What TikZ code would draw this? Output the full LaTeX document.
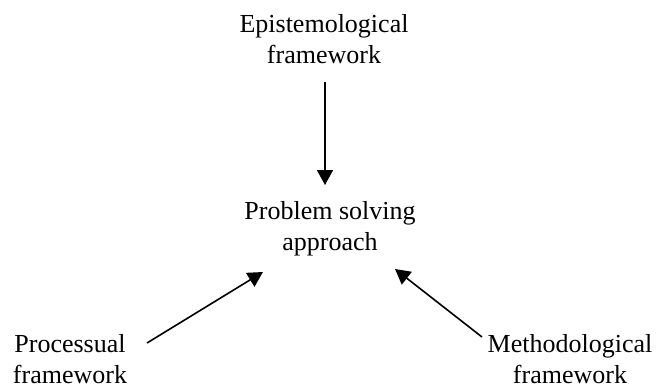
\documentclass[tikz,border=0pt]{standalone}
\usepackage{fontspec}
\setmainfont{Liberation Serif}
\usetikzlibrary{arrows.meta}
\begin{document}
\begin{tikzpicture}[x=1pt,y=1pt,
  lbl/.style={align=center,inner sep=0pt,anchor=base,font=\fontsize{26}{30.5}\selectfont},
  arr/.style={line width=1.6pt,-{Triangle[length=15pt,width=16pt]}}]
\useasboundingbox (0,0) rectangle (663,-389);
\node[lbl] (epi) at (324,-63) {Epistemological\\framework};
\node[lbl] (psa) at (330,-250) {Problem solving\\approach};
\node[lbl] (pro) at (70,-383) {Processual\\framework};
\node[lbl] (met) at (570,-383) {Methodological\\framework};
\coordinate (e1) at (325,-82);
\coordinate (e2) at (325,-185);
\coordinate (p1) at (147,-343);
\coordinate (p2) at (263,-272);
\coordinate (m1) at (482,-337);
\coordinate (m2) at (395,-269);
\draw[arr] (e1) -- (e2);
\draw[arr] (p1) -- (p2);
\draw[arr] (m1) -- (m2);
\end{tikzpicture}
\end{document}
